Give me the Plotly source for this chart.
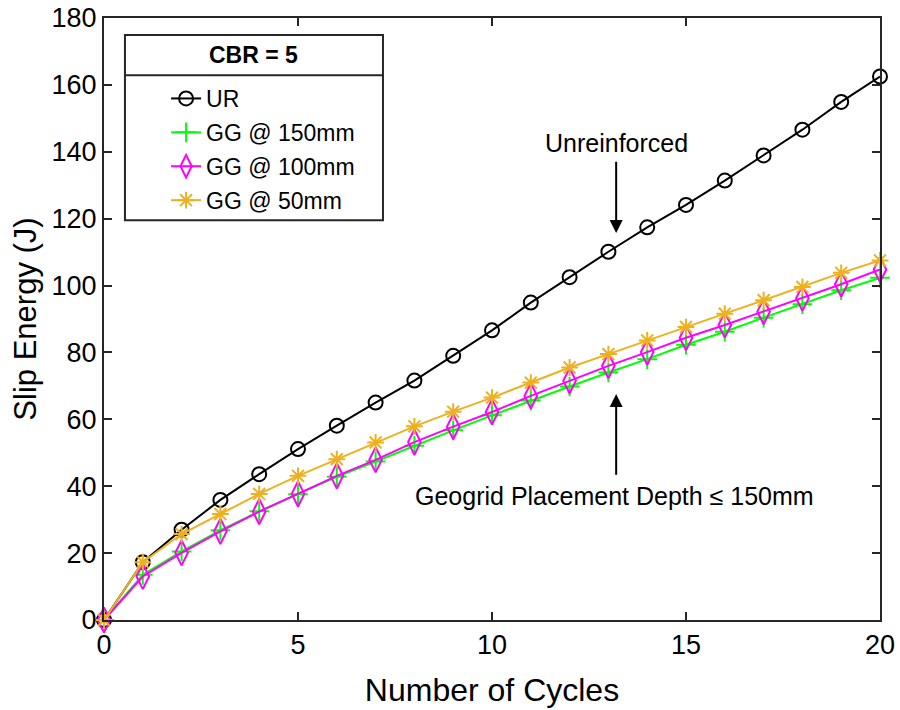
import plotly.graph_objects as go

cycles = list(range(21))
ur = [0, 17.3, 27.0, 35.9, 43.6, 51.1, 58.1, 65.0, 71.6, 79.0, 86.6, 94.9, 102.5, 110.1, 117.4, 124.1, 131.4, 138.9, 146.6, 154.9, 162.5]
gg150 = [0, 13.5, 20.5, 26.8, 32.5, 37.6, 42.8, 47.4, 52.1, 56.7, 61.2, 65.6, 69.8, 74.0, 78.0, 82.3, 86.2, 90.4, 94.4, 98.6, 102.3]
gg100 = [0, 13.0, 20.1, 26.5, 32.4, 37.7, 43.1, 47.9, 53.2, 57.8, 62.2, 67.0, 71.5, 76.0, 80.1, 84.4, 88.2, 92.2, 96.2, 100.4, 104.8]
gg50 = [0, 17.3, 25.7, 31.7, 37.7, 43.1, 48.1, 53.1, 57.9, 62.3, 66.5, 71.0, 75.5, 79.5, 83.6, 87.6, 91.6, 95.6, 99.6, 103.8, 107.5]

names = ["UR", "GG @ 150mm", "GG @ 100mm", "GG @ 50mm"]
series = [ur, gg150, gg100, gg50]
colors = ["#000000", "#00FF00", "#FF00FF", "#EDB120"]
symbols = ["circle-open", "cross-thin-open", "diamond-tall-open", "asterisk-open"]
sizes = [14, 14, 18, 14]

FONT = "Liberation Sans, Arial, sans-serif"
fig = go.Figure()
for n, s, c, sym, sz in zip(names, series, colors, symbols, sizes):
    fig.add_trace(go.Scatter(
        x=cycles, y=s, name=n, mode="lines+markers", legendgroup=n, cliponaxis=False,
        line=dict(color=c, width=2),
        marker=dict(symbol=sym, size=sz, color=c, line=dict(color=c, width=2)),
    ))

axis_common = dict(
    showline=True, linewidth=2, linecolor="#262626", mirror="ticks",
    ticks="inside", ticklen=8, tickwidth=2, tickcolor="#262626",
    showgrid=False, zeroline=False, automargin=False,
    tickfont=dict(family=FONT, size=27, color="#000000"),
)
fig.update_xaxes(range=[0, 20], dtick=5, tick0=0,
                 title=dict(text="Number of Cycles", font=dict(family=FONT, size=32, color="#000"), standoff=19),
                 **axis_common)
fig.update_yaxes(range=[0, 180], dtick=20, tick0=0,
                 title=dict(text="Slip Energy (J)", font=dict(family=FONT, size=31, color="#000"), standoff=6),
                 **axis_common)

# legend box & title
lx0, lx1, ly0, ly1, lsep = 0.027, 0.3595, 0.664, 0.9717, 0.905
fig.add_shape(type="rect", xref="paper", yref="paper", x0=lx0, x1=lx1, y0=ly0, y1=ly1,
              line=dict(color="#262626", width=2), fillcolor="white", layer="below")
fig.add_shape(type="line", xref="paper", yref="paper", x0=lx0, x1=lx1, y0=lsep, y1=lsep,
              line=dict(color="#262626", width=2))
fig.add_annotation(xref="paper", yref="paper", x=(lx0 + lx1) / 2, y=(lsep + ly1) / 2,
                   text="<b>CBR = 5</b>", showarrow=False, xanchor="center", yanchor="middle",
                   font=dict(family=FONT, size=23, color="#000"))

fig.update_layout(
    width=900, height=710,
    margin=dict(l=104, r=20, t=18, b=90),
    plot_bgcolor="white", paper_bgcolor="white",
    legend=dict(x=0.080, y=0.902, xanchor="left", yanchor="top",
                bgcolor="rgba(0,0,0,0)", borderwidth=0, traceorder="grouped",
                tracegroupgap=1, font=dict(family=FONT, size=23, color="#000")),
)

# annotations
fig.add_annotation(x=13.2, y=115.7, ax=13.2, ay=137.5, xref="x", yref="y", axref="x", ayref="y",
                   text="", showarrow=True, arrowhead=2, arrowsize=1.3, arrowwidth=2, arrowcolor="#000")
fig.add_annotation(x=13.2, y=142.7, xref="x", yref="y", text="Unreinforced", showarrow=False,
                   font=dict(family=FONT, size=25, color="#000"))
fig.add_annotation(x=13.2, y=67.6, ax=13.2, ay=43.0, xref="x", yref="y", axref="x", ayref="y",
                   text="", showarrow=True, arrowhead=2, arrowsize=1.3, arrowwidth=2, arrowcolor="#000")
fig.add_annotation(x=13.15, y=37.0, xref="x", yref="y", text="Geogrid Placement Depth ≤ 150mm",
                   showarrow=False, font=dict(family=FONT, size=25, color="#000"))

fig.write_html("out.html")
